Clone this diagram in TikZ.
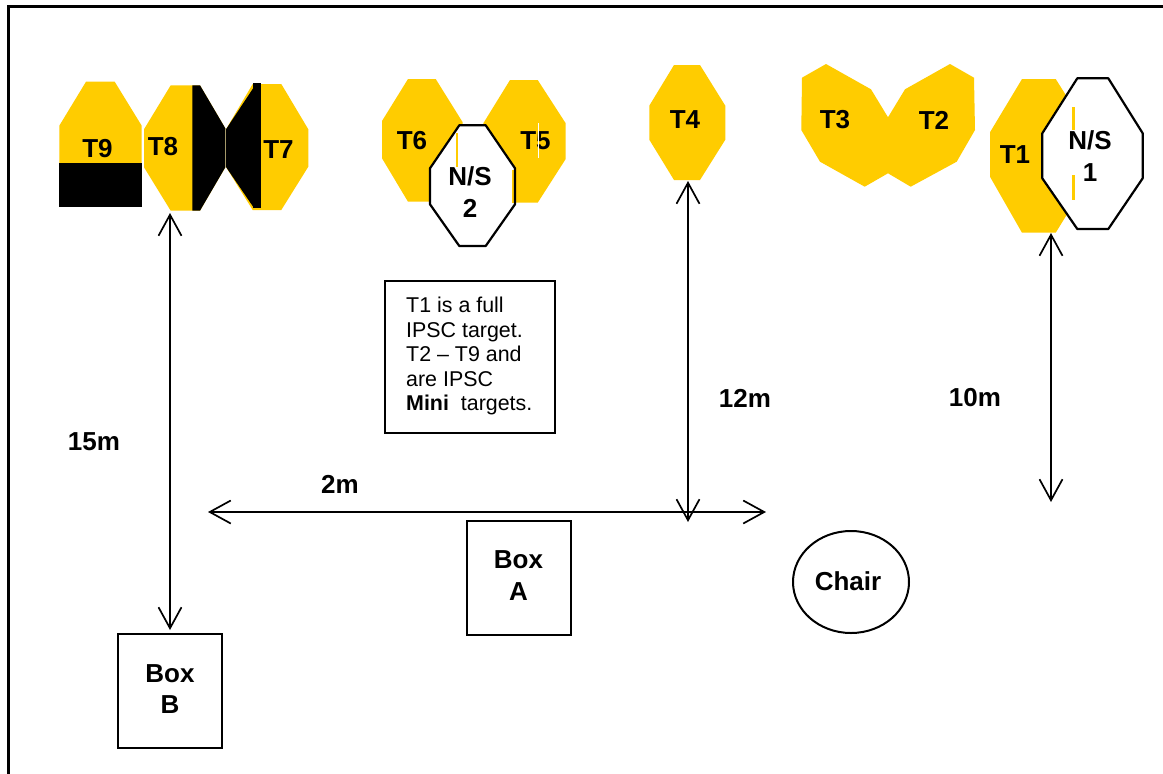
\documentclass[tikz,border=0pt]{standalone}
\usepackage{fontspec}
\setmainfont{Liberation Sans}
\usetikzlibrary{arrows.meta,shapes.geometric}
\definecolor{tgt}{HTML}{FFCC00}
\tikzset{
  tfill/.style={fill=tgt,draw=none},
  bfill/.style={fill=black,draw=none},
  nsfill/.style={fill=white,draw=none},
  nsline/.style={draw=black,line width=2.2pt,line join=round},
  pale/.style={draw=tgt!35,line width=0.8pt},
  lab/.style={font=\fontsize{26}{31.5}\selectfont\bfseries,inner sep=0pt,align=center,text=black},
  boxn/.style={draw=black,line width=2pt,inner sep=0pt,align=center,minimum width=#1},
  dim/.style={draw=black,line width=1.7pt,{Straight Barb[length=21pt,width=23pt,line width=1.7pt]}-{Straight Barb[length=21pt,width=23pt,line width=1.7pt]}}
}
\begin{document}
\begin{tikzpicture}[x=1pt,y=-1pt]
\useasboundingbox (0,0) rectangle (1163,774);
\fill[white] (0,0) rectangle (1163,774);
\draw[line width=2.8pt,black] (8.5,774) -- (8.5,6.5) -- (1163,6.5);

% T9
\fill[tfill] (86,81.7) -- (114.7,81.7) -- (141.7,125.7) -- (141.7,163) -- (59.3,163) -- (59.3,125.7) -- cycle;
\fill[bfill] (59.3,163) rectangle (141.7,207.3);
% T8
\fill[tfill] (170.7,85.3) -- (200,85.3) -- (225.3,128.3) -- (225.3,167.3) -- (200,210.7) -- (170.7,210.7) -- (144,167.3) -- (144,129.3) -- cycle;
\fill[bfill] (192.3,85.3) -- (200,85.3) -- (225.3,128.3) -- (225.3,167.3) -- (200,210.7) -- (192.3,210.7) -- cycle;
% T7
\fill[tfill] (252.7,84) -- (281.3,84) -- (308.3,129.3) -- (308.3,166.7) -- (281.3,210) -- (252.7,210) -- (226,167) -- (226,129.3) -- cycle;
\fill[bfill] (226,129.3) -- (253.3,88) -- (253.3,207) -- (226,167) -- cycle;
\fill[bfill] (253.3,82.7) rectangle (261,207.7);
% T6, T5
\fill[tfill] (408,79) -- (435.7,79) -- (462.7,122.3) -- (462.7,158) -- (435.7,201.7) -- (408,201.7) -- (382,158.3) -- (382,121) -- cycle;
\fill[tfill] (510,80) -- (537.7,80) -- (565.7,123.3) -- (565.7,159) -- (537.7,202.7) -- (510,202.7) -- (483.3,159) -- (483.3,123.3) -- cycle;
% N/S 2
\fill[nsfill] (459.3,125.3) -- (485.7,125.3) -- (515,168.3) -- (515,204.3) -- (485.7,246) -- (459.3,246) -- (430,204.3) -- (430,168.3) -- cycle;
\fill[tgt] (456,133) rectangle (458,166.7);
\fill[tgt] (512,170) rectangle (515,203);
\draw[nsline] (459.3,125.3) -- (485.7,125.3) -- (515,168.3) -- (515,204.3) -- (485.7,246) -- (459.3,246) -- (430,204.3) -- (430,168.3) -- cycle;
% T4
\fill[tfill] (674,65) -- (700,65) -- (725.3,105.7) -- (725.3,139.7) -- (700,180) -- (674,180) -- (649.3,139.7) -- (649.3,105.7) -- cycle;
% T3, T2
\fill[tfill] (826,64) -- (871,89.3) -- (888,117.3) -- (905,89.3) -- (950,64) -- (974,77.7) -- (975,130) -- (956.7,161.7) -- (910.7,186.7) -- (888,173.3) -- (864.7,186.7) -- (820,161.7) -- (801.3,130) -- (802,77.7) -- cycle;
% T1
\fill[tfill] (1022,79) -- (1055.7,79) -- (1074,108) -- (1074,203) -- (1055.7,232.7) -- (1022,232.7) -- (990,176.7) -- (990,132.3) -- cycle;
% N/S 1
\fill[nsfill] (1077.3,78.3) -- (1108.3,78.3) -- (1142.7,133.3) -- (1142.7,178.3) -- (1108.3,229) -- (1077.3,229) -- (1042.3,178.3) -- (1042.3,133.3) -- cycle;
\fill[tgt] (1072,107) rectangle (1074.5,130);
\fill[tgt] (1072,175) rectangle (1074.5,200);
\draw[nsline] (1077.3,78.3) -- (1108.3,78.3) -- (1142.7,133.3) -- (1142.7,178.3) -- (1108.3,229) -- (1077.3,229) -- (1042.3,178.3) -- (1042.3,133.3) -- cycle;

% labels
\node[lab] (t9) at (97.5,149) {T9};
\node[lab] (t8) at (163,146.5) {T8};
\node[lab] (t7) at (278.5,150) {T7};
\node[lab] (t6) at (412,141) {T6};
\node[lab] (t5) at (535.5,141) {T5};
\node[lab] (ns2) at (470,192) {N/S\\2};
\node[lab] (t4) at (685,120) {T4};
\node[lab] (t3) at (835,120) {T3};
\node[lab] (t2) at (934,120) {T2};
\node[lab] (t1) at (1015,155) {T1};
\node[lab] (ns1) at (1090,156) {N/S\\1};
\draw[draw=white,line width=0.8pt] (538.3,123) -- (538.3,158);

% boxes
\node[boxn=104pt,minimum height=114pt] (boxA) at (519,578) {};
\node[lab] (boxAtxt) at (518.5,575.5) {Box\\A};
\node[boxn=104pt,minimum height=114pt] (boxB) at (170,691) {};
\node[lab] (boxBtxt) at (170,689) {Box\\B};
\node[draw=black,line width=2pt,ellipse,inner sep=0pt,minimum width=116pt,minimum height=102pt] (chair) at (851,582) {};
\node[lab] (chairtxt) at (848,581) {Chair};
\node[draw=black,line width=2pt,inner sep=0pt,minimum width=170pt,minimum height=152pt] (note) at (470,357) {};
\node[inner sep=0pt,anchor=north west,align=left,font=\fontsize{21.4}{24.5}\selectfont] (notetxt) at (406,297) {T1 is a full\\IPSC target.\\T2 – T9 and\\are IPSC\\\textbf{Mini}\hspace{6pt} targets.};

% dimension labels
\node[lab] (d15) at (94,442) {15m};
\node[lab] (d12) at (745,398) {12m};
\node[lab] (d10) at (975,398) {10m};
\node[lab] (d2) at (340,484) {2m};

% connectors
\coordinate (t8foot) at (170,213);
\coordinate (t4foot) at (688,181);
\coordinate (t4end) at (688,522);
\coordinate (t1foot) at (1051,233);
\coordinate (t1end) at (1051,502);
\coordinate (hleft) at (208,512);
\coordinate (hright) at (766,512);
\draw[dim] (t8foot) -- ([yshift=3pt]boxB.north);
\draw[dim] (t4foot) -- (t4end);
\draw[dim] (t1foot) -- (t1end);
\draw[dim] (hleft) -- (hright);
\end{tikzpicture}
\end{document}
